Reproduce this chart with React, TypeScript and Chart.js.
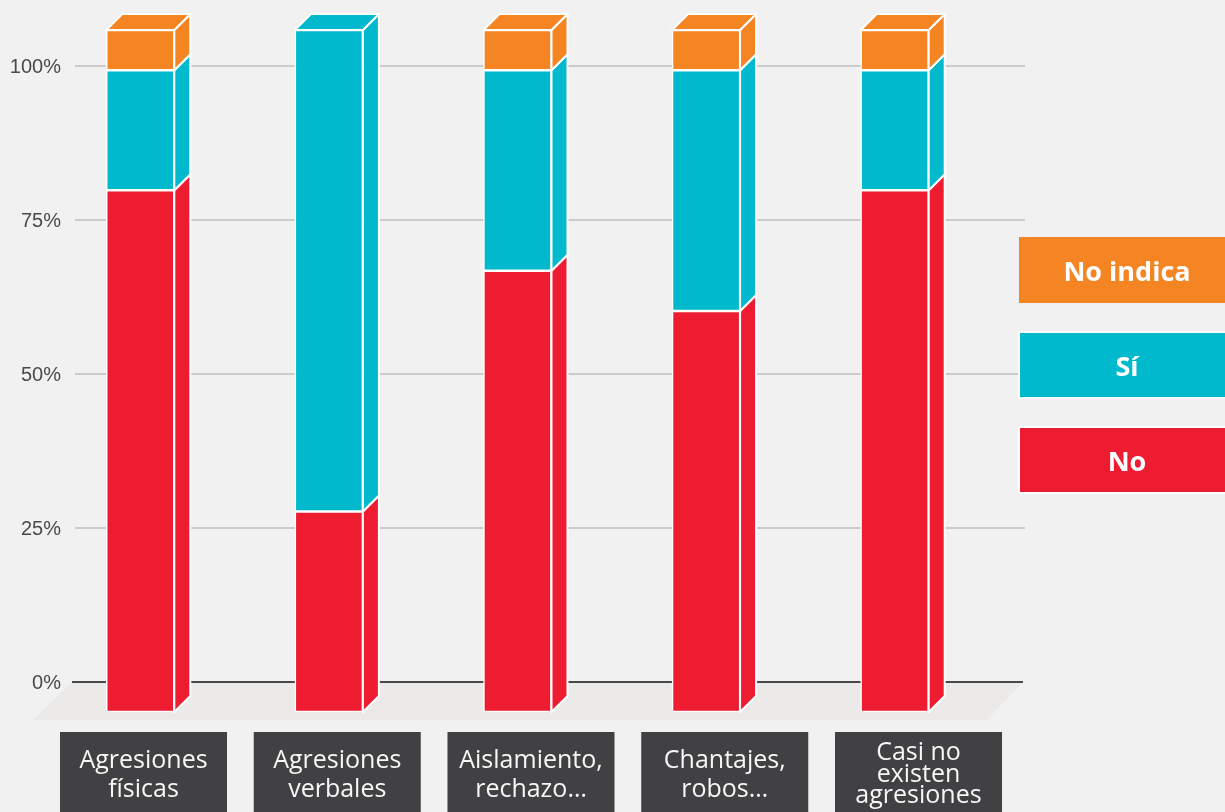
import React, { useEffect, useRef } from "react";
import { Chart, registerables } from "chart.js";
Chart.register(...registerables);

// ---- data ----
const categories: string[][] = [
  ["Agresiones", "físicas"],
  ["Agresiones", "verbales"],
  ["Aislamiento,", "rechazo…"],
  ["Chantajes,", "robos…"],
  ["Casi no", "existen", "agresiones"],
];
const seriesNames = ["No", "Sí", "No indica"];
const noValues = [76.5, 29.4, 64.7, 58.8, 76.5];
const siValues = [17.6, 70.6, 29.4, 35.3, 17.6];
const noIndicaValues = [5.9, 0, 5.9, 5.9, 5.9];
const tickValues = [0, 25, 50, 75, 100];
const tickLabels = ["0%", "25%", "50%", "75%", "100%"];
const seriesColors = ["#ED1C31", "#00B9CD", "#F58423"];

const DEPTH = 16;
const BG = "#F1F1F1";

function poly(ctx: CanvasRenderingContext2D, pts: number[][], fill: string, stroke?: string) {
  ctx.beginPath();
  ctx.moveTo(pts[0][0], pts[0][1]);
  for (let i = 1; i < pts.length; i++) ctx.lineTo(pts[i][0], pts[i][1]);
  ctx.closePath();
  ctx.fillStyle = fill;
  ctx.fill();
  if (stroke) {
    ctx.strokeStyle = stroke;
    ctx.lineWidth = 2;
    ctx.lineJoin = "round";
    ctx.stroke();
  }
}

const decorPlugin = {
  id: "decor",
  beforeDatasetsDraw(chart: any) {
    const ctx: CanvasRenderingContext2D = chart.ctx;
    const yS = chart.scales.y;
    const x2 = chart.scales.x2;
    const ca = chart.chartArea;
    ctx.save();
    const y0 = yS.getPixelForValue(0);
    const floorBottom = ca.bottom + 8;
    // floor
    poly(
      ctx,
      [
        [ca.left + 26, y0],
        [ca.right + 34, y0],
        [ca.right - 2, floorBottom],
        [ca.left - 13, floorBottom],
      ],
      "#EBEAE9"
    );
    // grid lines and tick labels
    const gx0 = ca.left + 29;
    const gx1 = ca.right + 36;
    tickValues.forEach((v, i) => {
      const py = Math.round(yS.getPixelForValue(v));
      ctx.beginPath();
      if (v === 0) {
        ctx.strokeStyle = "#111111";
        ctx.lineWidth = 1.5;
        ctx.moveTo(ca.left + 26, py);
        ctx.lineTo(ca.right + 34, py);
      } else {
        ctx.strokeStyle = "#CBCBCB";
        ctx.lineWidth = 2;
        ctx.moveTo(gx0, py);
        ctx.lineTo(gx1, py);
      }
      ctx.stroke();
      ctx.fillStyle = "#4A4A4A";
      ctx.font = "20px 'Liberation Sans', Arial, sans-serif";
      ctx.textAlign = "right";
      ctx.textBaseline = "middle";
      ctx.fillText(tickLabels[i], ca.left + 15, py + 1);
    });
    // category label boxes
    categories.forEach((lines, i) => {
      const cx = x2.getPixelForValue(i);
      const top = ca.bottom + 20;
      ctx.fillStyle = "#414042";
      ctx.fillRect(cx - 83.5, top, 167, 100);
      ctx.fillStyle = "#F7F7F7";
      ctx.font = "25px 'Open Sans', sans-serif";
      ctx.textAlign = "center";
      ctx.textBaseline = "alphabetic";
      const lh = lines.length > 2 ? 21.5 : 29;
      const first = lines.length > 2 ? top + 28 : top + 36;
      lines.forEach((t, k) => ctx.fillText(t, cx, first + k * lh));
    });
    // legend (reverse order)
    const legX = ca.right + 30;
    const legW = 216;
    const legH = 66;
    const legTop = 237;
    const gap = 95;
    for (let k = 0; k < seriesNames.length; k++) {
      const d = seriesNames.length - 1 - k;
      const ty = legTop + k * gap;
      ctx.fillStyle = seriesColors[d];
      ctx.fillRect(legX, ty, legW, legH);
      if (d !== 2) {
        ctx.strokeStyle = "#FFFFFF";
        ctx.lineWidth = 2;
        ctx.strokeRect(legX, ty, legW, legH);
      }
      ctx.fillStyle = "#FFFFFF";
      ctx.font = "bold 27px 'Open Sans', sans-serif";
      ctx.textAlign = "center";
      ctx.textBaseline = "middle";
      ctx.fillText(seriesNames[d], legX + 108, ty + legH / 2 + 3);
    }
    ctx.restore();
  },
  afterDatasetsDraw(chart: any) {
    const ctx: CanvasRenderingContext2D = chart.ctx;
    ctx.save();
    const n = chart.data.labels.length;
    for (let i = 0; i < n; i++) {
      let topEl: any = null;
      let topColor = "";
      chart.data.datasets.forEach((ds: any, d: number) => {
        const meta = chart.getDatasetMeta(d);
        const el = meta.data[i];
        if (!el) return;
        const p = el.getProps(["x", "y", "base", "width"], true);
        if (Math.abs(p.base - p.y) < 0.5) return;
        const right = p.x + p.width / 2;
        poly(
          ctx,
          [
            [right, p.y],
            [right + DEPTH, p.y - DEPTH],
            [right + DEPTH, p.base - DEPTH],
            [right, p.base],
          ],
          ds.backgroundColor,
          "#FFFFFF"
        );
        topEl = p;
        topColor = ds.backgroundColor;
      });
      if (topEl) {
        const left = topEl.x - topEl.width / 2;
        const right = topEl.x + topEl.width / 2;
        poly(
          ctx,
          [
            [left, topEl.y],
            [left + DEPTH, topEl.y - DEPTH],
            [right + DEPTH, topEl.y - DEPTH],
            [right, topEl.y],
          ],
          topColor,
          "#FFFFFF"
        );
      }
    }
    ctx.restore();
  },
};

export default function App() {
  const ref = useRef<HTMLCanvasElement | null>(null);
  useEffect(() => {
    document.body.style.margin = "0";
    document.body.style.background = BG;
    const values = [noValues, siValues, noIndicaValues];
    const chart = new Chart(ref.current as HTMLCanvasElement, {
      type: "bar",
      data: {
        labels: categories.map((c) => c.join(" ")),
        datasets: seriesNames.map((name, d) => ({
          label: name,
          data: values[d],
          backgroundColor: seriesColors[d],
          borderColor: "#FFFFFF",
          borderWidth: 1.5,
          borderSkipped: false,
          barThickness: 68,
          yAxisID: "y2",
          xAxisID: "x",
        })),
      },
      options: {
        responsive: false,
        animation: false,
        layout: { padding: { left: 46, right: 236, top: 30, bottom: 100 } },
        plugins: { legend: { display: false }, tooltip: { enabled: false } },
        scales: {
          x: { type: "category", display: false, stacked: true, offset: true },
          x2: { type: "linear", display: false, offset: false, min: -0.5032, max: 4.3639 },
          y: { type: "linear", display: false, min: -4.87, max: 105.84 },
          y2: { type: "linear", display: false, stacked: true, min: 0, max: 100 },
        },
      } as any,
      plugins: [decorPlugin],
    });
    return () => chart.destroy();
  }, []);
  return (
    <div style={{ width: 1225, height: 812, background: BG, overflow: "hidden" }}>
      <canvas ref={ref} width={1225} height={812} style={{ display: "block" }} />
    </div>
  );
}
